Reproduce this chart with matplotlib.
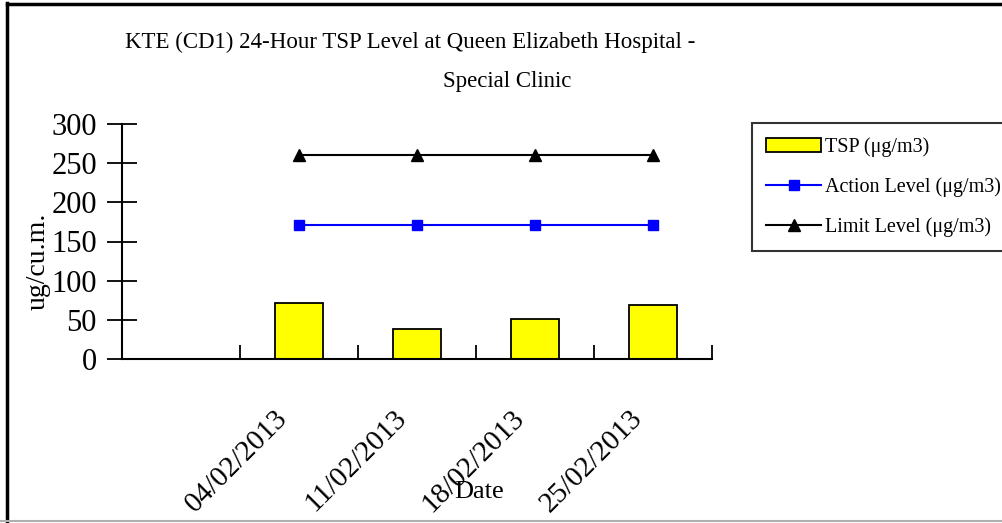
import numpy as np
import matplotlib.pyplot as plt
import matplotlib.transforms as mtransforms
from matplotlib.lines import Line2D

plt.rcParams['font.family'] = ['Liberation Serif', 'DejaVu Serif']

# data (first category is blank)
dates = ['', '04/02/2013', '11/02/2013', '18/02/2013', '25/02/2013']
tsp = [np.nan, 71, 38, 51, 69]
action = [np.nan, 171, 171, 171, 171]
limit = [np.nan, 260, 260, 260, 260]

W, H = 1003, 523
fig = plt.figure(figsize=(W / 100, H / 100), dpi=100)
ax = fig.add_axes([122 / W, 1 - 359 / H, 590 / W, 235 / H])

x = np.arange(len(dates))
ax.bar(x, tsp, width=0.41, color='#ffff00', edgecolor='black', linewidth=1.3,
       label='TSP (\u03bcg/m3)', zorder=2)
ax.plot(x, action, color='#0000ff', marker='s', markersize=7, linewidth=1.5,
        label='Action Level (\u03bcg/m3)', zorder=3)
ax.plot(x, limit, color='black', marker='^', markersize=9, linewidth=1.5,
        label='Limit Level (\u03bcg/m3)', zorder=3)

ax.set_xlim(-0.5, len(dates) - 0.5)
ax.set_ylim(0, 300)
ax.set_yticks(np.arange(0, 301, 50))
ax.set_xticks(np.arange(len(dates) + 1) - 0.5, minor=False)
ax.set_xticklabels([])
ax.set_xticks(x, minor=True)
ax.set_xticklabels(dates, minor=True, rotation=45, ha='right', va='center',
                   rotation_mode='anchor', fontsize=21)
ax.tick_params(axis='x', which='major', direction='in', length=10, width=1.3)
ax.tick_params(axis='x', which='minor', length=0, pad=40)
ax.tick_params(axis='y', direction='inout', length=22, width=1.3, labelsize=22, pad=7)

# nudge the date labels a bit to the left, like the original
shift = mtransforms.ScaledTranslation(-15 / 100, 0, fig.dpi_scale_trans)
for lab in ax.get_xticklabels(minor=True):
    lab.set_transform(lab.get_transform() + shift)

for s in ['top', 'right']:
    ax.spines[s].set_visible(False)
for s in ['left', 'bottom']:
    ax.spines[s].set_linewidth(1.5)

fig.text(410 / W, 1 - 42 / H, 'KTE (CD1) 24-Hour TSP Level at Queen Elizabeth Hospital -',
         ha='center', va='center', fontsize=16.5)
fig.text(507 / W, 1 - 82 / H, 'Special Clinic', ha='center', va='center', fontsize=16.5)
fig.text(38 / W, 1 - 261 / H, 'ug/cu.m.', rotation=90, ha='center', va='center', fontsize=20)
fig.text(479 / W, 1 - 492 / H, 'Date', ha='center', va='center', fontsize=19)

handles, labels = ax.get_legend_handles_labels()
order = [2, 0, 1]
leg = fig.legend([handles[i] for i in order], [labels[i] for i in order],
                 loc='upper left', bbox_to_anchor=(752 / W, 1 - 123 / H),
                 fontsize=14.5, frameon=True, fancybox=False, handlelength=2.7,
                 borderpad=0.72, labelspacing=1.0, handletextpad=0.2, borderaxespad=0)
leg.get_frame().set_edgecolor('black')
leg.get_frame().set_linewidth(1.5)

# chart area border
fig.add_artist(Line2D([7.5 / W, 7.5 / W], [1 - 521 / H, 1 - 3 / H], color='black', linewidth=2.5))
fig.add_artist(Line2D([7.5 / W, 1], [1 - 4 / H, 1 - 4 / H], color='black', linewidth=2.5))
fig.add_artist(Line2D([0, 1], [1 - 521 / H, 1 - 521 / H], color='#b0b0b0', linewidth=1.5))

fig.savefig('out.png', dpi=100)
